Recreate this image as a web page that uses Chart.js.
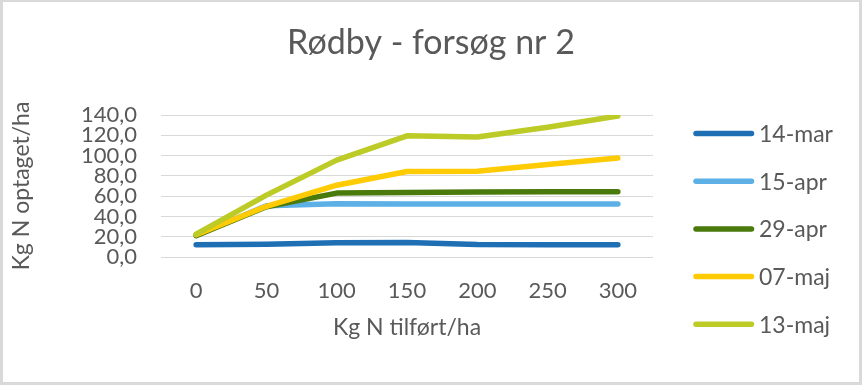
<!DOCTYPE html>
<html>
<head>
<meta charset="utf-8">
<script src="https://cdn.jsdelivr.net/npm/chart.js@4"></script>
<style>
  html, body { margin: 0; padding: 0; background: #fff; }
  #frame {
    width: 862px; height: 385px; box-sizing: border-box;
    border: solid #d9d9d9; border-width: 2px 3px 3px 3px;
  }
  #chart { display: block; }
</style>
</head>
<body>
<div id="frame"><canvas id="chart" width="856" height="380"></canvas></div>
<script>
// Kg N tilført/ha
const doser = ['0', '50', '100', '150', '200', '250', '300'];

// Kg N optaget/ha pr. prøvedato
const mar14 = [12.2, 12.6, 14.0, 14.3, 12.3, 12.2, 12.2];
const apr15 = [21.5, 50.5, 52.5, 52.3, 52.3, 52.2, 52.2];
const apr29 = [21.0, 49.5, 63.0, 63.5, 64.2, 64.3, 64.3];
const maj07 = [22.0, 50.0, 70.8, 84.3, 84.6, 91.2, 97.7];
const maj13 = [22.5, 61.0, 95.5, 119.5, 118.3, 128.0, 139.0];

const datoer = ['14-mar', '15-apr', '29-apr', '07-maj', '13-maj'];
const serier = [mar14, apr15, apr29, maj07, maj13];
const farver = ['#1f6fb5', '#5cb0e5', '#4b7a0c', '#ffcb05', '#bdcb27'];

const grå = '#595959';
const font = 'Lato';

// legend box on the right, added to the layout so the title still spans the full width
const sideLegend = {
  id: 'sideLegend',
  beforeInit(chart) {
    const box = {
      position: 'right',
      weight: 0,
      fullSize: false,
      options: { display: true },
      isHorizontal() { return false; },
      update(maxWidth, maxHeight) {
        this.width = 206;
        this.height = maxHeight;
      },
      draw() {
        const ctx = chart.ctx;
        const top = chart.chartArea.top;
        ctx.save();
        chart.data.datasets.forEach((ds, i) => {
          const x = this.left + 43;
          const y = top + 18.5 + i * 47.7;
          ctx.strokeStyle = ds.borderColor;
          ctx.lineWidth = 5.5;
          ctx.lineCap = 'round';
          ctx.beginPath();
          ctx.moveTo(x, y);
          ctx.lineTo(x + 55.5, y);
          ctx.stroke();
          ctx.fillStyle = grå;
          ctx.font = '23px ' + font;
          ctx.textBaseline = 'middle';
          ctx.fillText(ds.label, x + 63, y + 1);
        });
        ctx.restore();
      }
    };
    Chart.layouts.addBox(chart, box);
  }
};

function draw() {
  const ctx = document.getElementById('chart').getContext('2d');
  new Chart(ctx, {
    type: 'line',
    data: {
      labels: doser,
      datasets: serier.map((s, i) => ({
        label: datoer[i],
        data: s,
        borderColor: farver[i],
        backgroundColor: farver[i],
        borderWidth: 5.5,
        borderCapStyle: 'round',
        borderJoinStyle: 'round',
        pointRadius: 0,
        fill: false,
        order: serier.length - i
      }))
    },
    options: {
      responsive: false,
      animation: false,
      events: [],
      layout: { padding: 0 },
      plugins: {
        legend: { display: false },
        tooltip: { enabled: false },
        title: {
          display: true,
          text: 'Rødby - forsøg nr 2',
          color: grå,
          font: { family: font, size: 34, weight: 'normal' },
          padding: { top: 20.6, bottom: 51.6 }
        }
      },
      scales: {
        x: {
          offset: true,
          grid: { display: false, drawTicks: false },
          border: { display: false },
          ticks: { color: grå, font: { family: font, size: 22 }, padding: 21, maxRotation: 0 },
          title: {
            display: true,
            text: 'Kg N tilført/ha',
            color: grå,
            font: { family: font, size: 23 },
            padding: { top: 0, bottom: 41 }
          },
          afterFit(s) { s.height = 125; }
        },
        y: {
          min: 0,
          max: 140,
          grid: { color: '#d9d9d9', lineWidth: 1, drawTicks: false },
          border: { display: false },
          ticks: {
            stepSize: 20,
            autoSkip: false,
            color: grå,
            font: { family: font, size: 22 },
            padding: 24,
            callback: v => v.toFixed(1).replace('.', ',')
          },
          title: {
            display: true,
            text: 'Kg N optaget/ha',
            color: grå,
            font: { family: font, size: 23 },
            padding: { top: 5, bottom: 0 }
          },
          afterFit(s) { s.width = 158; }
        }
      }
    },
    plugins: [sideLegend]
  });
}

document.fonts.load('22px ' + font).then(draw, draw);
</script>
</body>
</html>
